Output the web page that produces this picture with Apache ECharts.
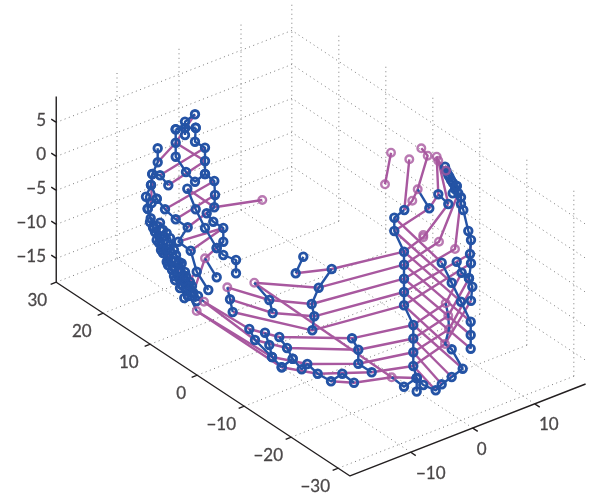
<!DOCTYPE html>
<html><head><meta charset="utf-8">
<style>html,body{margin:0;padding:0;background:#fff}#c{width:602px;height:497px}</style>
<script src="https://cdn.jsdelivr.net/npm/echarts@6/dist/echarts.min.js"></script>
</head><body><div id="c"></div>
<script>
// Axis ticks (data units of the 3-D box)
const xTicks = [-10, 0, 10];
const yTicks = [30, 20, 10, 0, -10, -20, -30];
const zTicks = [5, 0, -5, -10, -15];
const xRange = [-19.8, 18.2], yRange = [-32.5, 30], zRange = [-18.5, 8.8];

// Marks, in view-plane coordinates
const blueChains = [
 [[157.7,148.3],[157.7,162.3],[152.3,174],[151,185],[146,196.7],[147.7,208.7],[150.7,218.3],[153,227],[156.7,240],[161,250],[166.7,261.7],[172,270],[175,280],[181.7,285],[184.3,298],[196.7,301]],
 [[152.3,174],[160,175.3],[168.3,185.3]],
 [[175.7,129.3],[175.7,142.7],[175.7,156.7],[186,172],[195,181.7],[205,174]],
 [[195,114.3],[185,121.7],[185,128],[185,135]],
 [[175.7,129.3],[185,128],[195.7,127.7]],
 [[195.7,127.7],[195,141.7],[205,147.7],[205,161],[205,174],[214.3,181],[215,195],[214.3,207.3],[206.7,213.3],[213.3,221.7],[223.3,228],[223.3,241.7],[216.7,248],[223.3,255],[236,260],[236,273.3]],
 [[187.3,188.7],[195.7,209.3],[205,228],[216.7,248]],
 [[151,185],[156.7,198.7],[151.7,203],[147.7,208.7]],
 [[156.7,198.7],[165,209.3],[175.7,219.3],[187.7,227.3],[178.3,241.7],[190.7,250.7],[196.7,271.7],[208.3,290]],
 [[205,258.3],[216.7,277.3]],
 [[160,222.7],[166.7,233.3],[170,245],[176,255],[181.7,263.3],[185,272],[190,282],[193.3,292.7],[204,301.7]],
 [[153.3,228],[160,236],[163,248],[168,258],[175,268],[180,278],[186,288],[196.7,311]],
 [[150,222],[155,232],[159,243],[163,253],[168,265],[174,276],[180,288],[188,296]],
 [[157,226],[162,238],[167,249],[172,260],[178,271],[184,281],[190,289]],
 [[163,230],[170,238],[174,250],[179,262],[186,276],[192,286],[198,296]],
 [[404.3,210],[394.3,217.7],[394.3,231],[404,251.7],[404,264.7],[404,278.7],[404,292],[404,305.3],[413.3,325],[413.3,338.5],[413.3,352.3],[413.3,366],[416.7,378],[416.7,391.5]],
 [[391.7,377.3],[404,386.7],[416.7,378]],
 [[416.7,378],[423.3,385],[435.7,390.3],[441.7,384.3],[451.7,377],[462.7,368.7],[451.7,349.3],[445,344],[449,329.3],[448.3,315.7],[445.7,303.3]],
 [[441.7,262.7],[451.7,282.7],[461,301.7],[470.7,321.7],[470.7,335],[470.7,348.7]],
 [[445,166.7],[446.5,171],[448.3,175],[449.5,177],[451,180],[453,183],[456.7,186],[455,189],[458.3,193.3],[461,197.3],[461,204],[463.3,210],[468.3,231],[471,240],[470,254],[471,263.3],[469,278.3],[472.3,286.7],[471,300.7]],
 [[417.7,189.3],[429.3,208.3]],
 [[438.3,194.3],[448.3,204]],
 [[456.7,261.7],[461.7,272.7],[469,278.3]],
 [[452.7,193.3],[456.7,186]],
 [[303.3,256.7],[295.7,273.3]],
 [[331.7,269],[318.7,287.7],[311.7,304],[314.3,316.3],[312.3,330.3]],
 [[254.3,282.7],[269.3,300],[272.7,313]],
 [[227.3,287.3],[230,299.3],[232.7,312]],
 [[352,338.3],[358.3,349.7],[358.3,363.7],[371.7,372.3]],
 [[249.3,329],[255,340],[272,357],[281.7,367.3]],
 [[265,332.7],[269.3,345],[272,357]],
 [[279.3,337],[287,348],[292.7,358.7],[301.7,369.3],[307.3,364],[317.7,373.7],[331,381.3],[342.3,373.7],[354,382.7]],
 [[292.7,358.7],[281.7,367.3]]
];
const purpleChains = [
 [[157.7,162.3],[175.7,142.7],[195,114.3]],
 [[160,175.3],[205,147.7]],
 [[168.3,185.3],[205,161]],
 [[165,209.3],[214.3,181]],
 [[175.7,219.3],[215,195]],
 [[187.7,227.3],[214.3,207.3],[262.3,200]],
 [[175.7,142.7],[205,161]],
 [[187.3,188.7],[214.3,207.3]],
 [[178.3,241.7],[223.3,228]],
 [[190.7,250.7],[223.3,228]],
 [[193.3,292.7],[205,258.3],[223.3,241.7]],
 [[152.3,174],[151,203]],
 [[156,240],[160.7,221.7]],
 [[166.7,261.7],[172,245]],
 [[175,280],[181,263]],
 [[184.3,298],[193,275]],
 [[204,301.7],[249.3,329],[279.3,337],[352,338.3],[413.3,325]],
 [[204,301.7],[255,340],[287,348],[358.3,349.7],[413.3,338.5]],
 [[196.7,311],[272,357],[307.3,364],[358.3,363.7],[413.3,352.3]],
 [[196.7,311],[281.7,367.3],[317.7,373.7],[371.7,372.3],[413.3,366]],
 [[331,381.3],[354,382.7],[391.7,377.3],[416.7,378]],
 [[254.3,282.7],[318.7,287.7],[404,264.7]],
 [[254.3,282.7],[391.7,377.3]],
 [[227.3,287.3],[269.3,300],[311.7,304],[404,278.7]],
 [[230,299.3],[272.7,313],[314.3,316.3],[404,292]],
 [[232.7,312],[312.3,330.3],[404,305.3]],
 [[295.7,273.3],[331.7,269],[404,251.7]],
 [[394.3,217.7],[441.7,262.7]],
 [[394.3,231],[451.7,282.7]],
 [[404,251.7],[461,301.7]],
 [[404,264.7],[470.7,321.7]],
 [[404,278.7],[470.7,335]],
 [[404,292],[470.7,348.7]],
 [[404,305.3],[451.7,349.3]],
 [[413.3,325],[462.7,368.7]],
 [[413.3,338.5],[451.7,377]],
 [[413.3,352.3],[441.7,384.3]],
 [[413.3,366],[435.7,390.3]],
 [[413.3,325],[445.7,303.3],[461.7,272.7]],
 [[413.3,338.5],[448.3,315.7],[469,278.3]],
 [[413.3,352.3],[449,329.3],[472.3,286.7]],
 [[413.3,366],[445,344],[471,300.7]],
 [[404,292],[470,254]],
 [[404,305.3],[471,263.3]],
 [[404,251.7],[423.3,237.3],[448.3,204]],
 [[404,264.7],[439,241.7],[458.3,193.3]],
 [[404,278.7],[455,249],[461,197.3]],
 [[394.3,231],[429.3,208.3],[438.3,194.3],[436.7,156.7]],
 [[404.3,210],[412.3,200.7],[417.7,189.3],[427.7,155.7],[421.3,148.3]],
 [[404.3,210],[409.3,159.3]],
 [[385,184.3],[391,152.7]],
 [[448.3,204],[438.3,160.7]],
 [[436.7,156.7],[438.3,160.7],[446,170.7]],
 [[470,254],[471,240]]
];
const purpleMarks = [[262.3,200],[391,152.7],[385,184.3],[409.3,159.3],[421.3,148.3],[427.7,155.7],[436.7,156.7],[438.3,160.7],[446,170.7],[417.7,189.3],[412.3,200.7],[423.3,235],[423.3,237.3],[439,241.7],[455,249],[445.7,303.3],[448.3,315.7],[449,329.3],[445,344],[205,258.3],[204,301.7],[196.7,311],[254.3,282.7],[227.3,287.3],[391.7,377.3]];

const BLUE = '#2453a5', PURPLE = '#a8589f', INK = '#231f20', GRID = '#7c7c7c';
const FONT = 'Lato,"Open Sans","Noto Sans",sans-serif';

// Oblique view of the 3-D box onto the page plane
const O = [320, 201.5], ex = [6.2, -2.42], ey = [-4.7, -3.1], ez = [0, -6.8];
const P = (x, y, z) => [O[0] + x*ex[0] + y*ey[0] + z*ez[0], O[1] + x*ex[1] + y*ey[1] + z*ez[1]];
const [x0, x1] = xRange, [y0, y1] = yRange, [z0, z1] = zRange;
const norm = v => { const l = Math.hypot(v[0], v[1]); return [v[0]/l, v[1]/l]; };
const BR = [null, null];

const gridPts = [];
const seg = (...pts) => { gridPts.push(...pts, BR); };
zTicks.forEach(z => seg(P(x0,y1,z), P(x1,y1,z), P(x1,y0,z)));
xTicks.forEach(x => { seg(P(x,y1,z0), P(x,y1,z1)); seg(P(x,y0,z0), P(x,y1,z0)); });
yTicks.forEach(y => { seg(P(x1,y,z0), P(x1,y,z1)); seg(P(x0,y,z0), P(x1,y,z0)); });

const axisPts = [P(x0,y1,z1), P(x0,y1,z0), P(x0,y0,z0), P(x1,y0,z0), BR];
const TL = 6;
const tick = (p, d) => { axisPts.push(p, [p[0]+d[0]*TL, p[1]+d[1]*TL], BR); };
const dz = norm(ey), dy = norm([-ex[0], -ex[1]]), dx = norm([-ey[0], -ey[1]]);
zTicks.forEach(z => tick(P(x0,y1,z), dz));
yTicks.forEach(y => tick(P(x0,y,z0), dy));
xTicks.forEach(x => tick(P(x,y0,z0), dx));

const fmt = v => String(v).replace('-', '\u2212');
const labels = [];
zTicks.forEach(z => { const p = P(x0,y1,z); labels.push({value:[46, p[1]-2], name:fmt(z), label:{align:'right'}}); });
yTicks.forEach(y => { const p = P(x0,y,z0); const off = y===30?-19:(y===0?-16:(y>0?-21.5:-23)); labels.push({value:[p[0]+off, p[1]+18], name:fmt(y), label:{align:'center'}}); });
xTicks.forEach(x => { const p = P(x,y0,z0); labels.push({value:[p[0]+(x===0?9:(x<0?20:14)), p[1]+21], name:fmt(x), label:{align:'center'}}); });

const isPurple = v => purpleMarks.some(m => m[0]===v[0] && m[1]===v[1]);
const lineBase = {type:'line', showSymbol:false, symbol:'none', silent:true, animation:false, clip:false, connectNulls:false};
const series = [];
series.push({...lineBase, name:'grid', data:gridPts, z:1, lineStyle:{color:GRID, width:1, type:[1,3.5]}});
series.push({...lineBase, name:'axes', data:axisPts, z:2, lineStyle:{color:INK, width:1.4}});
purpleChains.forEach(c => series.push({...lineBase, data:c, z:3, lineStyle:{color:PURPLE, width:2.4}}));
blueChains.forEach(c => series.push({...lineBase, data:c, z:4, lineStyle:{color:BLUE, width:2.4},
  symbol:'circle', showSymbol:true, showAllSymbol:true, symbolSize:v => isPurple(v) ? 0 : 7.6,
  itemStyle:{color:'rgba(255,255,255,0)', borderColor:BLUE, borderWidth:2.8}}));
series.push({type:'scatter', silent:true, animation:false, clip:false, data:purpleMarks, z:5, symbolSize:7.6,
  itemStyle:{color:'rgba(255,255,255,0)', borderColor:PURPLE, borderWidth:2.4}});
series.push({type:'scatter', silent:true, animation:false, clip:false, data:labels, z:6, symbolSize:1,
  itemStyle:{color:'rgba(0,0,0,0)'},
  label:{show:true, position:'inside', formatter:p=>p.name, color:INK, fontFamily:FONT, fontSize:17, verticalAlign:'middle', textBorderColor:INK, textBorderWidth:0.3}});

const chart = echarts.init(document.getElementById('c'), null, {renderer:'canvas', width:602, height:497});
chart.setOption({
  animation:false, backgroundColor:'#fff',
  grid:{left:0, right:0, top:0, bottom:0},
  xAxis:{type:'value', min:0, max:602, show:false},
  yAxis:{type:'value', min:0, max:497, inverse:true, show:false},
  tooltip:{show:false}, legend:{show:false},
  series
});
</script></body></html>
